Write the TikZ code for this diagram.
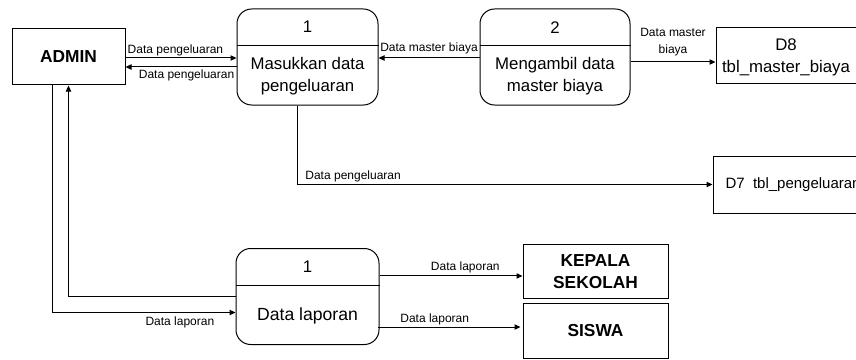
\documentclass[tikz,border=0pt]{standalone}
\usepackage{fontspec}
\setmainfont{Liberation Sans}
\usetikzlibrary{arrows.meta}

\begin{document}
\begin{tikzpicture}[x=0.75pt,y=-0.75pt,line width=0.75pt,
  entitas/.style={draw, rectangle, inner sep=0pt, align=center, minimum width=108.75pt, minimum height=41pt, font=\bfseries\fontsize{13}{16.5}\selectfont},
  proses/.style={draw, rectangle, rounded corners=11pt, inner sep=0pt, minimum height=72pt},
  teksproses/.style={align=center, inner sep=0pt, font=\fontsize{12.6}{16.5}\selectfont},
  simpan/.style={draw, rectangle, inner sep=0pt, minimum height=42pt},
  alur/.style={-{Triangle[length=4.5pt,width=4pt]}},
  ket/.style={align=center, inner sep=1.5pt, font=\fontsize{9}{12.75}\selectfont}]
\useasboundingbox (0,0) rectangle (856,360);
\newcommand\proses[6]{
\node[proses, minimum width=#4] (#1) at (#2,#3) {};
\path[draw] ([yshift=-27.75pt]#1.north west) -- ([yshift=-27.75pt]#1.north east);
\node[teksproses] (#1n) at ([yshift=-14pt]#1.north) {#5};
\node[teksproses] (#1t) at ([yshift=22pt]#1.south) {#6};
}
% entitas luar
\node[entitas, minimum width=84.75pt, minimum height=42pt] (admin) at (68.5,57) {ADMIN};
\node[entitas] (kepsek) at (595.5,271.5) {KEPALA\\SEKOLAH};
\node[entitas] (siswa) at (595.5,331) {SISWA};
% proses
\proses{p1}{307.5}{57}{105.75pt}{1}{Masukkan data\\pengeluaran}
\proses{p2}{555}{57}{112.5pt}{2}{Mengambil data\\master biaya}
\proses{p3}{307.5}{296.5}{107.25pt}{1}{\fontsize{13.2}{16.5}\selectfont Data laporan}
% data store
\node[simpan, minimum width=123pt] (d8) at (798,56) {};
\node[teksproses] (d8t) at (786,57) {D8\\tbl\_master\_biaya};
\node[simpan, minimum width=125.25pt, minimum height=42.75pt] (d7) at (796.5,184.5) {};
\node[teksproses, anchor=west, font=\fontsize{11.25}{13}\selectfont] (d7t) at (725,184.5) {D7\ \ tbl\_pengeluaran};
% alur data
\path[draw,alur] ([yshift=-0.75pt]admin.east) -- node[ket,above,pos=0.45] {Data pengeluaran} ([yshift=-0.75pt]p1.west);
\path[draw,alur] ([yshift=-7.5pt]p1.west) -- node[ket,below,pos=0.45] {Data pengeluaran} ([yshift=-7.5pt]admin.east);
\path[draw,alur] ([yshift=-0.75pt]p2.west) -- node[ket,above,inner sep=2.5pt] {Data master biaya} ([yshift=-0.75pt]p1.east);
\path[draw,alur] ([yshift=-3.75pt]p2.east) -- node[ket,above,inner sep=4pt] {Data master\\biaya} ([yshift=-3.75pt]p2.east -| d8.west);
\path[draw,alur] ([xshift=-7.5pt]p1.south) |- node[ket,above,pos=0.567] {Data pengeluaran} (d7.west);
\path[draw,alur] (p3.west) -| (admin.south);
\path[draw,alur] ([xshift=-12pt]admin.south) |- node[ket,below,pos=0.848,inner sep=3pt] {Data laporan} ([yshift=-12pt]p3.west);
\path[draw,alur] ([yshift=15.4pt]p3.east) -- node[ket,above,pos=0.6] {Data laporan} ([yshift=15.4pt]p3.east -| kepsek.west);
\path[draw,alur] ([xshift=-1.5pt,yshift=-22.9pt]p3.east) -- node[ket,above,pos=0.4] {Data laporan} ([xshift=-1.5pt,yshift=-22.9pt]p3.east -| siswa.west);
\end{tikzpicture}
\end{document}
